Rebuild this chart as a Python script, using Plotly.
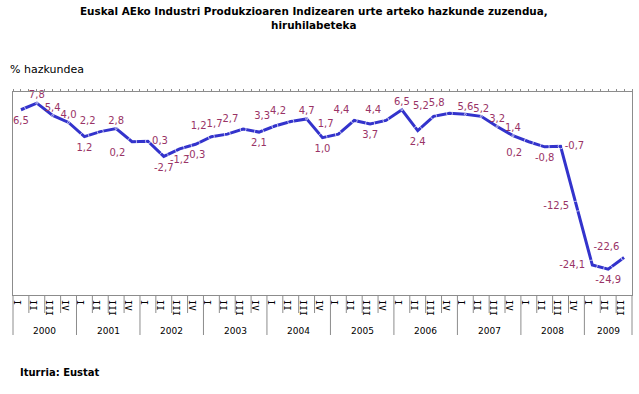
import plotly.graph_objects as go

years = ["2000", "2001", "2002", "2003", "2004", "2005", "2006", "2007", "2008", "2009"]
quarters_per_year = [4, 4, 4, 4, 4, 4, 4, 4, 4, 3]
quarter_names = ["I", "II", "III", "IV"]
values = [6.5, 7.8, 5.4, 4.0,
          1.2, 2.2, 2.8, 0.2,
          0.3, -2.7, -1.2, -0.3,
          1.2, 1.7, 2.7, 2.1,
          3.3, 4.2, 4.7, 1.0,
          1.7, 4.4, 3.7, 4.4,
          6.5, 2.4, 5.2, 5.8,
          5.6, 5.2, 3.2, 1.4,
          0.2, -0.8, -0.7, -12.5,
          -24.1, -24.9, -22.6]
label_pos = ["bottom center", "top center", "top center", "top center",
             "bottom center", "top left", "top center", "bottom left",
             "middle right", "bottom center", "bottom center", "bottom center",
             "top left", "top left", "top left", "bottom center",
             "top left", "top left", "top center", "bottom center",
             "top left", "top left", "bottom center", "top left",
             "top center", "bottom center", "top left", "top left",
             "top center", "top center", "top center", "top center",
             "bottom left", "bottom center", "middle right", "middle left",
             "middle left", "bottom center", "top left"]

title = "Euskal AEko Industri Produkzioaren Indizearen urte arteko hazkunde zuzendua,<br>hiruhilabeteka"
y_title = "% hazkundea"
source = "Iturria: Eustat"

LINE = "#3333CC"
LABEL = "#993366"
GRAY = "#8C8C8C"
FONT = "DejaVu Sans"
# spacing of each label from its point, by label position
PAD = {"top center": 2, "top left": 6, "top right": 6, "bottom center": 9,
       "bottom left": 9, "middle left": 10, "middle right": 5}

quarter_labels = []
for n in quarters_per_year:
    quarter_labels += quarter_names[:n]
xs = list(range(len(values)))
texts = [f"{v:.1f}".replace(".", ",") for v in values]
pads = [PAD[p] for p in label_pos]

fig = go.Figure()
fig.add_trace(go.Scatter(x=xs, y=values, mode="lines",
                         line=dict(color=LINE, width=3), hoverinfo="skip",
                         xaxis="x", yaxis="y"))
fig.add_trace(go.Scatter(x=xs, y=values, mode="markers+text", text=texts,
                         textposition=label_pos, cliponaxis=False,
                         marker=dict(size=pads, color="rgba(0,0,0,0)"),
                         textfont=dict(family=FONT, size=10, color=LABEL),
                         hoverinfo="skip", xaxis="x2", yaxis="y"))

xr = [-0.5, len(values) - 0.5]
plot_w = 639 - 13 - 7
plot_h = 394 - 92 - 99
q_len = -18 / plot_h
y_len = -40 / plot_h

shapes = []
start = 0
year_bounds = [-0.5]
for n in quarters_per_year:
    start += n
    year_bounds.append(start - 0.5)
for i in range(1, len(values)):
    b = i - 0.5
    length = y_len if b in year_bounds else q_len
    shapes.append(dict(type="line", xref="x", yref="paper", x0=b, x1=b,
                       y0=0, y1=length, line=dict(color=GRAY, width=1)))
for px in [0, 1]:
    shapes.append(dict(type="line", xref="paper", yref="paper", x0=px, x1=px,
                       y0=0, y1=y_len, line=dict(color=GRAY, width=1)))

annotations = []
for yi, yr in enumerate(years):
    c = (year_bounds[yi] + year_bounds[yi + 1]) / 2
    annotations.append(dict(x=c, xref="x", y=-(331 - 295) / plot_h, yref="paper",
                            text=yr, showarrow=False, xanchor="center", yanchor="middle",
                            font=dict(family=FONT, size=9, color="#000000")))
annotations.append(dict(x=(314 - 13) / plot_w, xref="paper", y=(295 - 3) / plot_h, yref="paper",
                        text="<b>" + title + "</b>", showarrow=False, xanchor="center",
                        yanchor="top", align="center",
                        font=dict(family=FONT, size=10.4, color="#000000")))
annotations.append(dict(x=-5 / plot_w, xref="paper", y=(295 - 70) / plot_h, yref="paper",
                        text=y_title, showarrow=False, xanchor="left", yanchor="middle",
                        font=dict(family=FONT, size=11, color="#000000")))
annotations.append(dict(x=5 / plot_w, xref="paper", y=(295 - 372) / plot_h, yref="paper",
                        text="<b>" + source + "</b>", showarrow=False, xanchor="left",
                        yanchor="middle", font=dict(family=FONT, size=10, color="#000000")))

fig.update_layout(
    width=639, height=394,
    margin=dict(l=13, r=7, t=92, b=99),
    paper_bgcolor="white", plot_bgcolor="white",
    showlegend=False,
    xaxis=dict(range=xr, tickmode="array", tickvals=xs, ticktext=quarter_labels,
               tickangle=90, ticks="", showgrid=False, zeroline=False,
               showline=True, linecolor=GRAY, linewidth=1,
               ticklabelshift=-4, ticklabelstandoff=2,
               tickfont=dict(family="DejaVu Sans Mono", size=9, color="#000000"),
               fixedrange=True),
    xaxis2=dict(range=xr, overlaying="x", side="top", anchor="y",
                tickmode="linear", tick0=-0.5, dtick=0.5, ticks="outside", ticklen=2,
                tickcolor=GRAY, showticklabels=False, showgrid=False, zeroline=False,
                showline=True, linecolor=GRAY, linewidth=1, fixedrange=True),
    yaxis=dict(range=[-30, 10], showgrid=False, zeroline=False, showticklabels=False,
               ticks="", showline=True, mirror=True, linecolor=GRAY, linewidth=1,
               fixedrange=True),
    shapes=shapes,
    annotations=annotations,
)

fig.write_html("out.html", config={"displayModeBar": False},
               post_script="document.body.style.margin='0';")
